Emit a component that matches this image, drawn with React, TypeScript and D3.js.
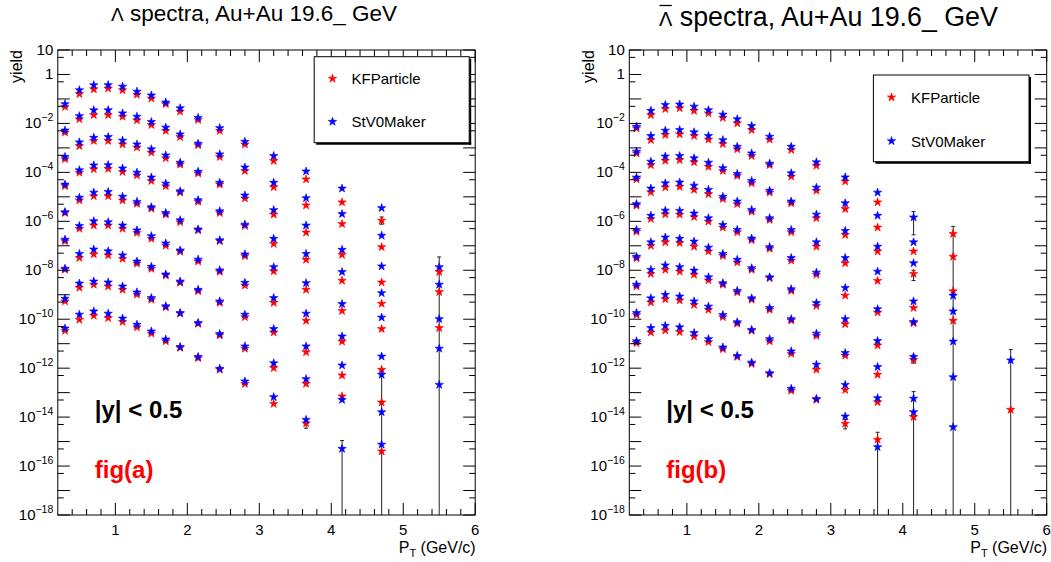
import React from 'react';
import * as d3 from 'd3';

// ---------- data ----------
const PT_BINS = [0.3, 0.5, 0.7, 0.9, 1.1, 1.3, 1.5, 1.7, 1.9, 2.15, 2.45, 2.8, 3.2, 3.65, 4.15, 4.7, 5.5];

// Lambda, StV0Maker (9 scaled centrality rows x pT bins)
const LAMBDA_STV0: (number | null)[][] = [
  [6.2e-2, 2.3e-1, 3.7e-1, 3.7e-1, 3.2e-1, 2.0e-1, 1.4e-1, 7.2e-2, 4.2e-2, 1.7e-2, 6.5e-3, 1.8e-3, 4.7e-4, 1.1e-4, 2.2e-5, 3.5e-6, null],
  [5.2e-3, 2.0e-2, 3.5e-2, 3.5e-2, 2.6e-2, 1.9e-2, 1.15e-2, 6.8e-3, 3.6e-3, 1.5e-3, 5.5e-4, 1.6e-4, 3.8e-5, 8.9e-6, 2.0e-6, 2.6e-7, null],
  [4.3e-4, 1.7e-3, 2.6e-3, 2.8e-3, 2.0e-3, 1.4e-3, 8.9e-4, 5.0e-4, 2.5e-4, 1.07e-4, 3.8e-5, 1.15e-5, 2.9e-6, 6.8e-7, 6.9e-8, 1.45e-8, null],
  [3.2e-5, 1.23e-4, 1.95e-4, 2.0e-4, 1.45e-4, 9.8e-5, 6.2e-5, 3.5e-5, 1.7e-5, 7.4e-6, 2.6e-6, 7.4e-7, 1.95e-7, 4.7e-8, 8.5e-9, 1.17e-9, null],
  [2.4e-6, 9.3e-6, 1.5e-5, 1.6e-5, 1.02e-5, 6.3e-6, 3.8e-6, 2.2e-6, 1.12e-6, 4.7e-7, 1.7e-7, 4.5e-8, 1.35e-8, 3.0e-9, 4.2e-10, 1.17e-10, 1.35e-8],
  [1.8e-7, 6.5e-7, 1.02e-6, 9.3e-7, 6.8e-7, 4.3e-7, 2.5e-7, 1.26e-7, 6.5e-8, 2.75e-8, 1.0e-8, 3.1e-9, 7.4e-10, 1.7e-10, 2.0e-11, 3.0e-12, 2.6e-9],
  [1.17e-8, 4.7e-8, 7.1e-8, 6.0e-8, 4.1e-8, 2.3e-8, 1.4e-8, 6.8e-9, 3.5e-9, 1.6e-9, 5.4e-10, 1.55e-10, 4.0e-11, 7.8e-12, 1.3e-12, 5.4e-13, 1.02e-10],
  [6.9e-10, 2.9e-9, 3.5e-9, 3.2e-9, 2.2e-9, 1.26e-9, 7.4e-10, 3.4e-10, 1.8e-10, 7.1e-11, 2.5e-11, 7.8e-12, 1.6e-12, 3.6e-13, 5.1e-14, 1.6e-14, 6.3e-12],
  [4.2e-11, 1.55e-10, 2.1e-10, 1.7e-10, 1.07e-10, 6.0e-11, 3.2e-11, 1.5e-11, 7.4e-12, 2.9e-12, 9.5e-13, 2.9e-13, 6.6e-14, 7.8e-15, 5.1e-16, 7.6e-16, 2.1e-13],
];

// Lambda, KFParticle
const LAMBDA_KF: (number | null)[][] = [
  [4.8e-2, 1.6e-1, 2.5e-1, 2.7e-1, 2.3e-1, 1.5e-1, 1.05e-1, 6.2e-2, 3.1e-2, 1.4e-2, 5.0e-3, 1.4e-3, 2.95e-4, 5.2e-5, 6.0e-6, 1.07e-6, null],
  [4.3e-3, 1.5e-2, 2.2e-2, 2.2e-2, 1.9e-2, 1.35e-2, 8.7e-3, 5.0e-3, 2.8e-3, 1.3e-3, 4.3e-4, 1.15e-4, 2.5e-5, 4.5e-6, 7.8e-7, 8.9e-8, null],
  [3.5e-4, 1.2e-3, 1.95e-3, 1.95e-3, 1.4e-3, 1.05e-3, 6.5e-4, 3.8e-4, 2.1e-4, 9.1e-5, 3.2e-5, 8.7e-6, 1.9e-6, 3.5e-7, 4.3e-8, 3.2e-9, null],
  [2.75e-5, 9.8e-5, 1.35e-4, 1.4e-4, 1.05e-4, 7.6e-5, 4.5e-5, 2.75e-5, 1.5e-5, 6.3e-6, 2.2e-6, 6.5e-7, 1.2e-7, 2.7e-8, 3.8e-9, 4.3e-10, null],
  [2.2e-6, 7.2e-6, 1.07e-5, 1.07e-5, 7.2e-6, 5.2e-6, 3.3e-6, 1.9e-6, 9.3e-7, 4.3e-7, 1.55e-7, 3.8e-8, 9.1e-9, 1.6e-9, 2.2e-10, 4.0e-11, 8.5e-9],
  [1.55e-7, 5.0e-7, 6.8e-7, 6.8e-7, 5.0e-7, 3.4e-7, 1.95e-7, 1.02e-7, 5.75e-8, 2.3e-8, 8.7e-9, 2.4e-9, 4.7e-10, 8.7e-11, 1.23e-11, 8.7e-13, 1.3e-9],
  [1.07e-8, 3.2e-8, 4.5e-8, 4.1e-8, 2.95e-8, 1.9e-8, 1.15e-8, 6.2e-9, 3.1e-9, 1.4e-9, 4.7e-10, 1.23e-10, 2.9e-11, 4.5e-12, 5.1e-13, null, 4.4e-11],
  [5.4e-10, 1.95e-9, 2.6e-9, 2.2e-9, 1.6e-9, 1.02e-9, 6.3e-10, 3.1e-10, 1.7e-10, 6.5e-11, 2.2e-11, 6.3e-12, 1.02e-12, 2.3e-13, 7.1e-14, 4.0e-14, null],
  [3.4e-11, 9.5e-11, 1.4e-10, 1.12e-10, 7.8e-11, 4.7e-11, 2.6e-11, 1.26e-11, 6.8e-12, 2.6e-12, 8.7e-13, 2.3e-13, 3.5e-14, 5.6e-15, null, 4.0e-16, null],
];

// anti-Lambda, StV0Maker
const ALAMBDA_STV0: (number | null)[][] = [
  [7.4e-3, 3.3e-2, 5.75e-2, 6.0e-2, 4.9e-2, 3.5e-2, 2.3e-2, 1.5e-2, 7.9e-3, 2.9e-3, 1.12e-3, 2.6e-4, 6.3e-5, 1.5e-5, 1.45e-6, null, null],
  [7.1e-4, 3.1e-3, 5.1e-3, 5.4e-3, 4.4e-3, 3.1e-3, 2.1e-3, 1.12e-3, 6.0e-4, 2.3e-4, 9.3e-5, 2.4e-5, 5.5e-6, 1.7e-6, 1.4e-7, null, null],
  [6.2e-5, 2.75e-4, 4.5e-4, 4.7e-4, 3.8e-4, 2.5e-4, 1.5e-4, 8.7e-5, 4.5e-5, 1.8e-5, 6.5e-6, 1.9e-6, 4.1e-7, 9.3e-8, 1.95e-8, null, null],
  [5.1e-6, 2.2e-5, 3.6e-5, 3.9e-5, 2.9e-5, 1.95e-5, 1.02e-5, 6.5e-6, 2.95e-6, 1.35e-6, 4.5e-7, 1.4e-7, 3.2e-8, 8.9e-9, 5.4e-10, 9.1e-10, null],
  [4.5e-7, 1.7e-6, 2.75e-6, 2.7e-6, 2.1e-6, 1.35e-6, 7.2e-7, 4.5e-7, 2.0e-7, 8.9e-8, 3.2e-8, 8.1e-9, 1.9e-9, 2.6e-10, 7.8e-11, 2.1e-10, null],
  [3.6e-8, 1.4e-7, 2.2e-7, 1.95e-7, 1.5e-7, 8.5e-8, 4.7e-8, 2.7e-8, 1.23e-8, 5.2e-9, 1.7e-9, 4.6e-10, 1.02e-10, 1.3e-11, 2.9e-12, 1.23e-11, 2.1e-12],
  [2.6e-9, 1.05e-8, 1.6e-8, 1.35e-8, 9.8e-9, 5.2e-9, 3.0e-9, 1.45e-9, 7.2e-10, 2.9e-10, 1.02e-10, 2.6e-11, 4.2e-12, 1.12e-12, 5.75e-14, 4.3e-13, null],
  [1.8e-10, 7.2e-10, 1.0e-9, 8.5e-10, 5.4e-10, 3.3e-10, 1.5e-10, 7.6e-11, 3.7e-11, 1.55e-11, 4.9e-12, 1.4e-12, 2.1e-13, 6.0e-14, 1.6e-14, 3.9e-15, null],
  [1.26e-11, 4.4e-11, 5.4e-11, 4.7e-11, 2.75e-11, 1.55e-11, 7.1e-12, 3.2e-12, 1.7e-12, 6.3e-13, 1.45e-13, 5.6e-14, 1.07e-14, 6.0e-16, null, null, null],
];

// anti-Lambda, KFParticle
const ALAMBDA_KF: (number | null)[][] = [
  [6.3e-3, 2.2e-2, 3.9e-2, 4.2e-2, 3.3e-2, 2.6e-2, 1.7e-2, 1.02e-2, 5.4e-3, 2.2e-3, 8.3e-4, 1.9e-4, 4.3e-5, 6.0e-6, null, 3.1e-7, null],
  [6.0e-4, 2.1e-3, 3.4e-3, 3.6e-3, 3.1e-3, 2.2e-3, 1.45e-3, 8.9e-4, 4.7e-4, 2.0e-4, 6.8e-5, 1.8e-5, 3.2e-6, 5.6e-7, 5.9e-8, 3.6e-8, null],
  [5.2e-5, 2.0e-4, 3.0e-4, 3.2e-4, 2.6e-4, 1.7e-4, 1.15e-4, 7.2e-5, 3.6e-5, 1.5e-5, 5.5e-6, 1.35e-6, 2.8e-7, 5.9e-8, 7.2e-9, null, null],
  [4.4e-6, 1.55e-5, 2.45e-5, 2.6e-5, 1.95e-5, 1.3e-5, 8.3e-6, 5.1e-6, 2.5e-6, 1.15e-6, 3.6e-7, 9.3e-8, 1.95e-8, 3.7e-9, 2.9e-10, 1.4e-9, null],
  [3.8e-7, 1.26e-6, 1.95e-6, 1.9e-6, 1.5e-6, 9.8e-7, 5.6e-7, 3.6e-7, 1.7e-7, 7.6e-8, 2.5e-8, 6.6e-9, 9.3e-10, 1.9e-10, 6.9e-11, 8.7e-11, null],
  [3.1e-8, 1.0e-7, 1.4e-7, 1.3e-7, 9.3e-8, 5.9e-8, 3.9e-8, 2.1e-8, 1.05e-8, 4.8e-9, 1.45e-9, 3.5e-10, 6.3e-11, 8.5e-12, 2.2e-12, null, null],
  [2.2e-9, 7.2e-9, 1.05e-8, 8.9e-9, 6.6e-9, 3.9e-9, 2.6e-9, 1.26e-9, 6.3e-10, 2.45e-10, 8.9e-11, 2.1e-11, 3.3e-12, 5.4e-13, null, null, null],
  [1.5e-10, 4.9e-10, 6.6e-10, 5.9e-10, 3.9e-10, 2.45e-10, 1.23e-10, 6.6e-11, 3.4e-11, 1.26e-11, 3.9e-12, 8.7e-13, 1.3e-13, 4.1e-14, 1.02e-14, null, 2.0e-14],
  [1.07e-11, 2.9e-11, 3.5e-11, 3.0e-11, 2.0e-11, 1.17e-11, 6.0e-12, 2.9e-12, 1.5e-12, 5.75e-13, 1.2e-13, 5.1e-14, 5.4e-15, 1.2e-15, null, null, null],
];

// visible (large) error bars: [pT, upper yield, lower yield] (lower below axis -> clipped)
const LAMBDA_ERRORS: [number, number, number][] = [
  [4.15, 1.1e-15, 1e-20],
  [4.7, 7.9e-13, 1e-20],
  [5.5, 3.5e-8, 1e-20],
  [4.7, 1.5e-6, 7.6e-7],
  [3.65, 5.6e-15, 3.5e-15],
];
const ALAMBDA_ERRORS: [number, number, number][] = [
  [3.65, 2.4e-15, 1e-20],
  [4.15, 2.5e-6, 2.8e-7],
  [4.15, 1.0e-8, 3.8e-9],
  [4.15, 3.4e-12, 1.6e-12],
  [4.15, 1.1e-13, 1e-20],
  [4.7, 6.2e-7, 1e-20],
  [5.5, 5.75e-12, 1e-20],
  [3.2, 7.9e-15, 3.3e-15],
];

const SERIES_NAMES = ['KFParticle', 'StV0Maker'];
const SERIES_COLORS = ['#ff0000', '#0000ff'];
const X_MAJOR_TICKS = [1, 2, 3, 4, 5, 6];
const Y_LABEL_EXPONENTS = [1, 0, -2, -4, -6, -8, -10, -12, -14, -16, -18];

// ---------- layout ----------
const W = 1051;
const H = 562;
const FONT = '"Liberation Sans", Arial, Helvetica, sans-serif';
const FR = { x0: 57.8, x1: 475.2, y0: 50, y1: 515 };
const PANEL_DX = 571.5;

const markerPath = d3.symbol().type(d3.symbolStar).size(22)() as string;

type PanelProps = {
  dx: number;
  anti: boolean;
  titleX: number;
  titleY: number;
  titleSize: number;
  lambdaSize: number;
  kf: (number | null)[][];
  v0: (number | null)[][];
  errors: [number, number, number][];
  legend: { x: number; y: number; w: number; h: number; mx: number; tx: number; r1: number; r2: number };
  fig: string;
};

function Panel(p: PanelProps) {
  const x = d3.scaleLinear().domain([0.2, 6]).range([FR.x0 + p.dx, FR.x1 + p.dx]);
  const y = d3.scaleLog().domain([1e-18, 10]).range([FR.y1, FR.y0]).clamp(true);
  const X0 = FR.x0 + p.dx;
  const X1 = FR.x1 + p.dx;

  const minorX = d3.range(0.4, 5.9, 0.2).filter((v) => Math.abs(v - Math.round(v)) > 0.05);
  const majorY = d3.range(-18, 2).map((e) => Math.pow(10, e));
  const minorY = d3.range(-18, 1).map((e) => 5 * Math.pow(10, e));

  const drawSeries = (data: (number | null)[][], color: string, key: string) =>
    data.flatMap((row, ri) =>
      row.map((v, ci) =>
        v == null ? null : (
          <path key={`${key}-${ri}-${ci}`} d={markerPath} fill={color} stroke={color} strokeWidth={0.6}
            transform={`translate(${x(PT_BINS[ci])},${y(v)})`} />
        )
      )
    );

  const lg = p.legend;
  const lamW = 0.667 * p.lambdaSize;
  return (
    <g>
      {/* title */}
      <text x={p.titleX} y={p.titleY} fontSize={p.titleSize} textAnchor="start" fontFamily={FONT} fill="#000">
        <tspan fontSize={p.lambdaSize}>Λ</tspan>
        {' spectra, Au+Au 19.6_ GeV'}
      </text>
      {p.anti && (
        <line x1={p.titleX + 0.5} x2={p.titleX + lamW - 0.5} y1={5.5} y2={5.5} stroke="#000" strokeWidth={1.3} />
      )}

      {/* error bars */}
      {p.errors.map(([pt, hi, lo], i) => {
        const px = x(pt);
        const yt = y(hi);
        const yb = y(lo);
        return (
          <g key={`e${i}`} stroke="#222" strokeWidth={1}>
            <line x1={px} x2={px} y1={yt} y2={yb} />
            <line x1={px - 2} x2={px + 2} y1={yt} y2={yt} />
            {lo > 1e-18 && <line x1={px - 2} x2={px + 2} y1={yb} y2={yb} />}
          </g>
        );
      })}

      {/* markers */}
      {drawSeries(p.kf, SERIES_COLORS[0], 'kf')}
      {drawSeries(p.v0, SERIES_COLORS[1], 'v0')}

      {/* frame */}
      <rect x={X0} y={FR.y0} width={X1 - X0} height={FR.y1 - FR.y0} fill="none" stroke="#000" strokeWidth={1} />
      <g stroke="#000" strokeWidth={1}>
        {X_MAJOR_TICKS.map((t) => (
          <g key={`xm${t}`}>
            <line x1={x(t)} x2={x(t)} y1={FR.y1} y2={FR.y1 - 12} />
            <line x1={x(t)} x2={x(t)} y1={FR.y0} y2={FR.y0 + 12} />
          </g>
        ))}
        {minorX.map((t, i) => (
          <g key={`xn${i}`}>
            <line x1={x(t)} x2={x(t)} y1={FR.y1} y2={FR.y1 - 6} />
            <line x1={x(t)} x2={x(t)} y1={FR.y0} y2={FR.y0 + 6} />
          </g>
        ))}
        {majorY.map((t, i) => (
          <g key={`ym${i}`}>
            <line x1={X0} x2={X0 + 12} y1={y(t)} y2={y(t)} />
            <line x1={X1} x2={X1 - 12} y1={y(t)} y2={y(t)} />
          </g>
        ))}
        {minorY.map((t, i) => (
          <g key={`yn${i}`}>
            <line x1={X0} x2={X0 + 6} y1={y(t)} y2={y(t)} />
            <line x1={X1} x2={X1 - 6} y1={y(t)} y2={y(t)} />
          </g>
        ))}
      </g>

      {/* x tick labels */}
      {X_MAJOR_TICKS.map((t) => (
        <text key={`xl${t}`} x={x(t)} y={535} fontSize={15} textAnchor="middle" fontFamily={FONT}>{t}</text>
      ))}
      {/* y tick labels */}
      {Y_LABEL_EXPONENTS.map((e) => {
        const ty = y(Math.pow(10, e)) + 5;
        return (
          <text key={`yl${e}`} x={X0 - 4.5} y={ty} fontSize={15} textAnchor="end" fontFamily={FONT}>
            {e === 1 ? '10' : e === 0 ? '1' : (
              <>
                {'10'}
                <tspan dy={-7} fontSize={10.5}>{`−${-e}`}</tspan>
              </>
            )}
          </text>
        );
      })}

      {/* axis titles */}
      <text x={X1 + 0.5} y={553} fontSize={16} textAnchor="end" fontFamily={FONT}>
        P<tspan dy={4} fontSize={11}>T</tspan><tspan dy={-4}>{' (GeV/c)'}</tspan>
      </text>
      <text transform={`translate(${22 + p.dx},${FR.y0}) rotate(-90)`} fontSize={16} textAnchor="end" fontFamily={FONT}>yield</text>

      {/* annotations */}
      <text x={X0 + 37} y={418} fontSize={24} fontWeight="bold" fontFamily={FONT} fill="#000">|y| &lt; 0.5</text>
      <text x={X0 + 37} y={478} fontSize={24} fontWeight="bold" fontFamily={FONT} fill="#ff0000">{p.fig}</text>

      {/* legend */}
      <g>
        <line x1={lg.x + lg.w + 1} x2={lg.x + lg.w + 1} y1={lg.y + 2} y2={lg.y + lg.h + 2} stroke="#000" strokeWidth={2} />
        <line x1={lg.x + 2} x2={lg.x + lg.w + 2} y1={lg.y + lg.h + 1} y2={lg.y + lg.h + 1} stroke="#000" strokeWidth={2} />
        <rect x={lg.x} y={lg.y} width={lg.w} height={lg.h} fill="#fff" stroke="#000" strokeWidth={1} />
        {[lg.r1, lg.r2].map((ry, i) => (
          <g key={`lg${i}`}>
            <path d={markerPath} fill={SERIES_COLORS[i]} stroke={SERIES_COLORS[i]} strokeWidth={0.6}
              transform={`translate(${lg.mx},${ry})`} />
            <text x={lg.tx} y={ry + 5.5} fontSize={15} fontFamily={FONT}>{SERIES_NAMES[i]}</text>
          </g>
        ))}
      </g>
    </g>
  );
}

export default function App() {
  return (
    <svg width={W} height={H} viewBox={`0 0 ${W} ${H}`}
      style={{ position: 'absolute', left: 0, top: 0, background: '#fff', display: 'block' }}>
      <rect x={0} y={0} width={W} height={H} fill="#fff" />
      <Panel dx={0} anti={false} titleX={111} titleY={20.5} titleSize={22.5} lambdaSize={19}
        kf={LAMBDA_KF} v0={LAMBDA_STV0} errors={LAMBDA_ERRORS}
        legend={{ x: 314.2, y: 56.7, w: 155, h: 86, mx: 332.5, tx: 351.5, r1: 78.6, r2: 121.7 }}
        fig="fig(a)" />
      <Panel dx={PANEL_DX} anti={true} titleX={659} titleY={26} titleSize={26.8} lambdaSize={20}
        kf={ALAMBDA_KF} v0={ALAMBDA_STV0} errors={ALAMBDA_ERRORS}
        legend={{ x: 873.4, y: 75, w: 155.6, h: 86.7, mx: 891.5, tx: 911, r1: 97.3, r2: 141 }}
        fig="fig(b)" />
    </svg>
  );
}
